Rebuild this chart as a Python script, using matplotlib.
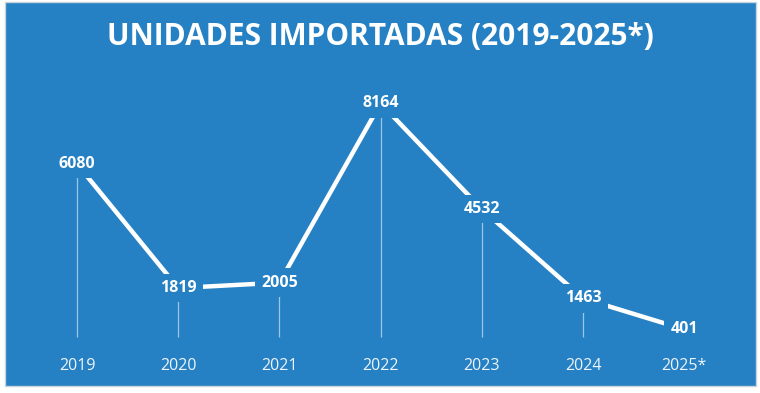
import numpy as np
from matplotlib import pyplot as plt
from matplotlib.patches import Rectangle

years = ['2019', '2020', '2021', '2022', '2023', '2024', '2025*']
units = [6080, 1819, 2005, 8164, 4532, 1463, 401]

blue = '#2581C4'

fig = plt.figure(figsize=(7.6, 3.93), dpi=100)
fig.patch.set_facecolor('white')

ax = fig.add_axes([0, 0, 1, 1])
ax.set_facecolor('none')
ax.axis('off')
ax.add_patch(Rectangle((5 / 760, 7 / 393), 751 / 760, 384 / 393,
	transform=fig.transFigure, facecolor=blue, edgecolor='#c8d3dc', lw=1,
	zorder=0, clip_on=False))

x = np.arange(len(years))
ax.set_xlim(-0.761, 6.749)
ax.set_ylim(-1786, 11714)

ax.vlines(x, 150, units, color='white', alpha=0.55, lw=0.9, zorder=1)
ax.plot(x, units, color='white', lw=3.2, solid_capstyle='butt', zorder=2)

for xi, v in zip(x, units):
	ax.text(xi, v, str(v), ha='center', va='center', color='white',
		fontsize=11.5, fontweight='bold', family='Open Sans', zorder=3,
		bbox=dict(boxstyle='square,pad=0.4', facecolor=blue, edgecolor='none'))

for xi, label in zip(x, years):
	ax.text(xi, -850, label, ha='center', va='center', color='#eef4fa',
		fontsize=11.5, family='Open Sans', zorder=3)

ax.text(0.5, 1 - 37 / 393, 'UNIDADES IMPORTADAS (2019-2025*)', ha='center',
	va='center', color='white', fontsize=21.5, fontweight='bold',
	family='Open Sans', transform=fig.transFigure, zorder=3)

plt.savefig('out.png', dpi=100)
